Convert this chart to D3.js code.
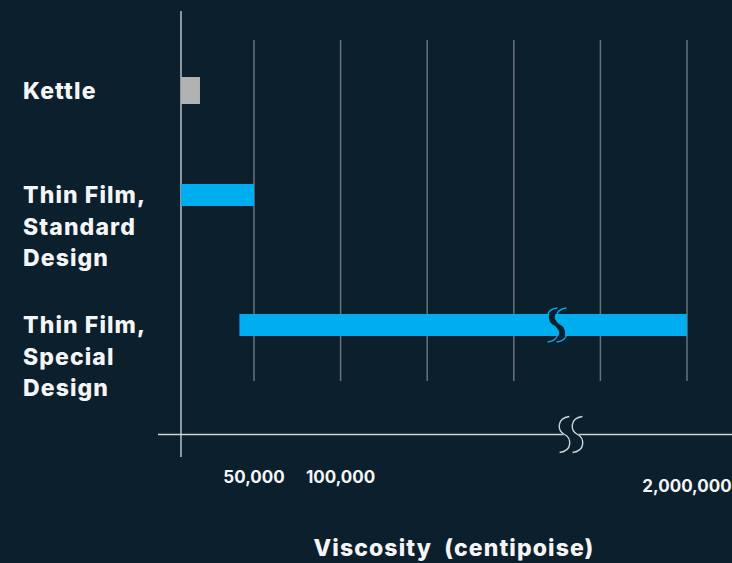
<!DOCTYPE html>
<html>
<head>
<meta charset="utf-8">
<script src="https://cdn.jsdelivr.net/npm/d3@7"></script>
<style>
  html, body { margin: 0; padding: 0; background: #0b1f2c; }
  svg { display: block; }
  text { font-family: Inter, "Open Sans", sans-serif; font-weight: 700; fill: #f4f5f6; }
  .big { font-weight: 800; letter-spacing: 1.1px; }
</style>
</head>
<body>
<svg id="chart" width="732" height="563"></svg>
<script>
// rows, label lines and the viscosity range each process handles (cP)
var categories = ["Kettle", "Thin Film, Standard", "Thin Film, Special"];
var labelLines = [["Kettle"], ["Thin Film,", "Standard", "Design"], ["Thin Film,", "Special", "Design"]];
var rangeStart = [0, 0, 40000];
var rangeEnd = [13000, 50000, 2000000];
var barColors = ["#b1b3b3", "#00aeef", "#00aeef"];

// gridline values (the axis is broken between 200k and 1.5M)
var gridValues = [50000, 100000, 150000, 200000, 1500000, 2000000];
var tickValues = [50000, 100000, 2000000];
var tickLabels = ["50,000", "100,000", "2,000,000"];

var svg = d3.select("#chart");
var bg = "#0b1f2c";

var x0 = 181, firstGap = 73, step = 86.6;
var x = d3.scaleLinear()
    .domain([0].concat(gridValues))
    .range([x0].concat(gridValues.map(function(d, i) { return x0 + firstGap + i * step; })));

var y = d3.scaleOrdinal().domain(categories).range([90.5, 195, 325]);
var barH = d3.scaleOrdinal().domain(categories).range([27, 22, 22]);

// gridlines
svg.append("g").selectAll("line")
    .data(gridValues)
    .enter().append("line")
    .attr("x1", function(d) { return x(d); })
    .attr("x2", function(d) { return x(d); })
    .attr("y1", 40).attr("y2", 381)
    .attr("stroke", "#67737b")
    .attr("stroke-width", 1.5);

// vertical axis
svg.append("line")
    .attr("x1", x(0)).attr("x2", x(0))
    .attr("y1", 11).attr("y2", 457)
    .attr("stroke", "#b9c0c4").attr("stroke-width", 1.5);

// horizontal axis
var axisY = 434.5;
svg.append("line")
    .attr("x1", 158).attr("x2", 732)
    .attr("y1", axisY).attr("y2", axisY)
    .attr("stroke", "#d0d4d6").attr("stroke-width", 1.5);

// bars
svg.append("g").selectAll("rect")
    .data(categories)
    .enter().append("rect")
    .attr("x", function(d, i) { return x(rangeStart[i]); })
    .attr("width", function(d, i) { return x(rangeEnd[i]) - x(rangeStart[i]); })
    .attr("y", function(d) { return y(d) - barH(d) / 2; })
    .attr("height", function(d) { return barH(d); })
    .attr("fill", function(d, i) { return barColors[i]; });

// vertical S used for the break marks
function sPath(cx, top, h, w) {
    var mid = top + h / 2, bot = top + h;
    return "M" + (cx + w * 0.35) + "," + top +
        " C" + (cx - w * 0.6) + "," + (top + h * 0.05) + " " + (cx - w * 0.5) + "," + (mid - h * 0.1) + " " + cx + "," + mid +
        " C" + (cx + w * 0.5) + "," + (mid + h * 0.1) + " " + (cx + w * 0.6) + "," + (bot - h * 0.05) + " " + (cx - w * 0.35) + "," + bot;
}

// break in the long bar
var bx = 557, by = y(categories[2]);
svg.append("path").attr("d", sPath(bx, by - 17, 34, 14))
    .attr("fill", "none").attr("stroke", bg).attr("stroke-width", 6);
[-4.5, 4.5].forEach(function(o) {
    svg.append("path").attr("d", sPath(bx + o, by - 17, 34, 14))
        .attr("fill", "none").attr("stroke", "#00aeef").attr("stroke-width", 1.3);
});

// break in the axis
var ax = 571;
svg.append("path").attr("d", sPath(ax, axisY - 18, 36, 14))
    .attr("fill", "none").attr("stroke", bg).attr("stroke-width", 11);
[-6.5, 6.5].forEach(function(o) {
    svg.append("path").attr("d", sPath(ax + o, axisY - 18, 36, 14))
        .attr("fill", "none").attr("stroke", "#d0d4d6").attr("stroke-width", 1.4);
});

// tick labels
svg.append("g").selectAll("text")
    .data(tickValues)
    .enter().append("text")
    .attr("x", function(d) { return x(d); })
    .attr("y", function(d) { return d === 2000000 ? 492 : 483; })
    .attr("text-anchor", "middle")
    .attr("font-size", 17)
    .text(function(d, i) { return tickLabels[i]; });

// category labels
var lab = svg.append("g").selectAll("text")
    .data(categories)
    .enter().append("text")
    .attr("class", "big")
    .attr("x", 23)
    .attr("y", function(d) { return y(d) + 8; })
    .attr("font-size", 23);
lab.selectAll("tspan")
    .data(function(d, i) { return labelLines[i]; })
    .enter().append("tspan")
    .attr("x", 23)
    .attr("dy", function(d, i) { return i === 0 ? 0 : 31.5; })
    .text(function(d) { return d; });

// axis title
svg.append("text")
    .attr("class", "big")
    .attr("x", 454).attr("y", 556)
    .attr("text-anchor", "middle")
    .attr("font-size", 23)
    .attr("xml:space", "preserve")
    .text("Viscosity  (centipoise)");
</script>
</body>
</html>
